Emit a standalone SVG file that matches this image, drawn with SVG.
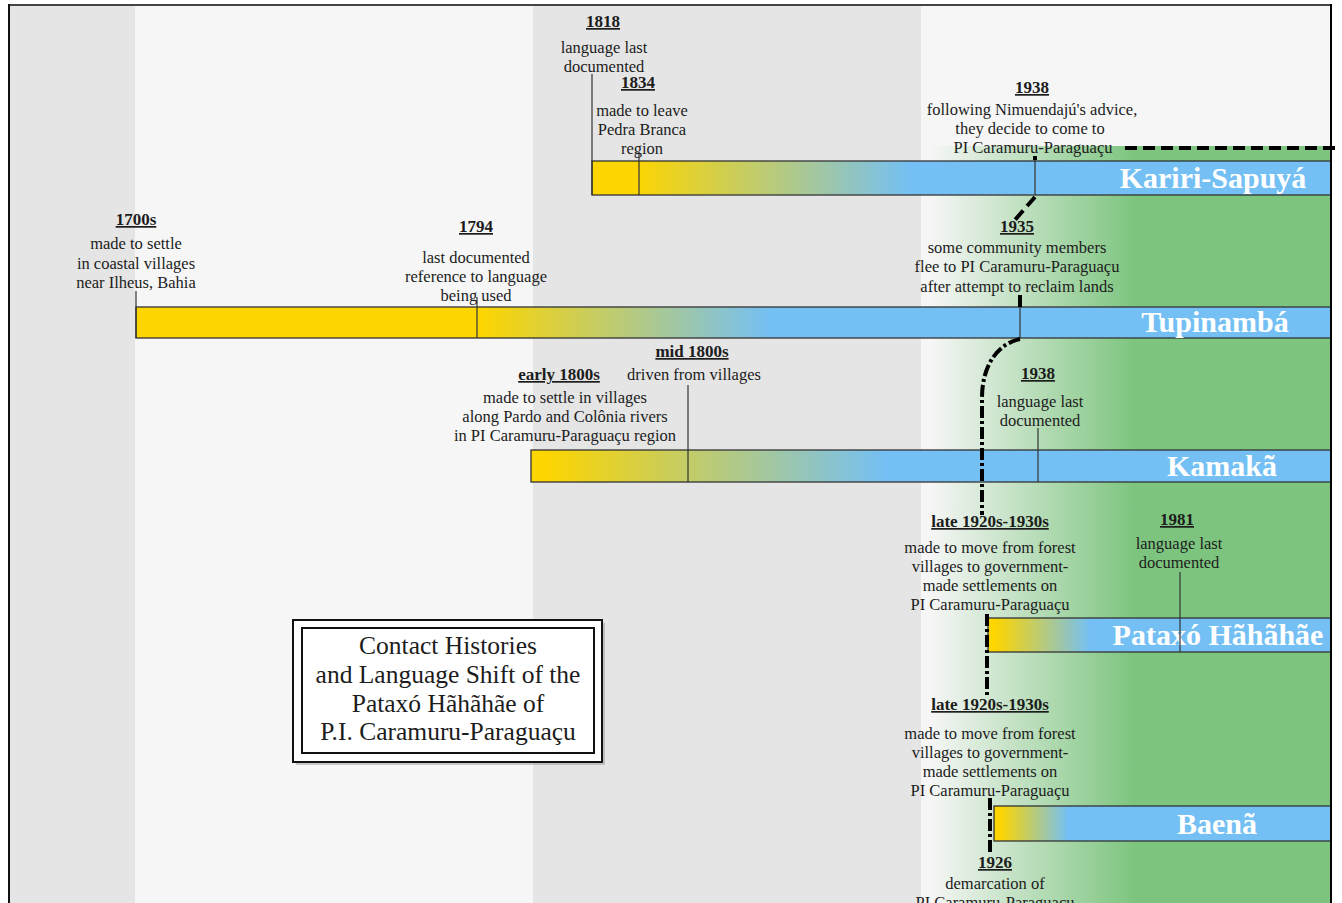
<svg xmlns="http://www.w3.org/2000/svg" width="1342" height="903" viewBox="0 0 1342 903">
<defs>
<style>
.d{font-family:"Liberation Serif","Times New Roman",serif;font-size:16.5px;fill:#1c1c1c;text-anchor:middle}
.y{font-family:"Liberation Serif","Times New Roman",serif;font-size:17px;font-weight:bold;fill:#1c1c1c;text-anchor:middle;text-decoration:underline}
.lbl{font-family:"Liberation Serif","Times New Roman",serif;font-size:30px;font-weight:bold;fill:#ffffff;text-anchor:middle}
.ttl{font-family:"Liberation Serif","Times New Roman",serif;font-size:25.5px;fill:#1c1c1c;text-anchor:middle}
.bar{stroke:#333;stroke-width:1.3}
.tick{stroke:#333;stroke-width:1.2;fill:none}
.route{stroke:#000;stroke-width:4;fill:none;stroke-dasharray:12 3 3 3}
.route2{stroke:#000;stroke-width:4;fill:none;stroke-dasharray:12 6}
</style>
<linearGradient id="gKariri" gradientUnits="userSpaceOnUse" x1="635" y1="0" x2="910" y2="0"><stop offset="0" stop-color="#fdd500"/><stop offset="1" stop-color="#74c0f4"/></linearGradient>
<linearGradient id="gTupi" gradientUnits="userSpaceOnUse" x1="480" y1="0" x2="770" y2="0"><stop offset="0" stop-color="#fdd500"/><stop offset="1" stop-color="#74c0f4"/></linearGradient>
<linearGradient id="gKamaka" gradientUnits="userSpaceOnUse" x1="545" y1="0" x2="885" y2="0"><stop offset="0" stop-color="#fdd500"/><stop offset="1" stop-color="#74c0f4"/></linearGradient>
<linearGradient id="gPataxo" gradientUnits="userSpaceOnUse" x1="995" y1="0" x2="1090" y2="0"><stop offset="0" stop-color="#fdd500"/><stop offset="1" stop-color="#74c0f4"/></linearGradient>
<linearGradient id="gBaena" gradientUnits="userSpaceOnUse" x1="1000" y1="0" x2="1068" y2="0"><stop offset="0" stop-color="#fdd500"/><stop offset="1" stop-color="#74c0f4"/></linearGradient>
<linearGradient id="gGreen" gradientUnits="userSpaceOnUse" x1="930" y1="0" x2="1135" y2="0"><stop offset="0" stop-color="#f6f6f6"/><stop offset="1" stop-color="#7dc57f"/></linearGradient>
</defs>

<g id="background">
<rect x="0" y="0" width="1342" height="903" fill="#ffffff"/>
<rect x="9" y="5" width="126" height="898" fill="#e5e5e5"/>
<rect x="135" y="5" width="398" height="898" fill="#f6f6f6"/>
<rect x="533" y="5" width="388" height="898" fill="#e5e5e5"/>
<rect x="921" y="5" width="410" height="898" fill="#f6f6f6"/>
<rect x="921" y="146" width="410" height="757" fill="url(#gGreen)"/>
</g>

<g id="title">
<rect x="296" y="623" width="309" height="142" fill="#9a9a9a" opacity="0.5"/>
<rect x="293" y="620" width="309" height="142" fill="#ffffff" stroke="#111" stroke-width="2"/>
<rect x="302" y="628" width="292" height="125" fill="none" stroke="#111" stroke-width="2"/>
<text class="ttl" x="448" y="654">Contact Histories</text>
<text class="ttl" x="448" y="683">and Language Shift of the</text>
<text class="ttl" x="448" y="712">Pataxó Hãhãhãe of</text>
<text class="ttl" x="448" y="740">P.I. Caramuru-Paraguaçu</text>
</g>

<g id="bar-kariri">
<rect class="bar" x="592" y="161" width="739" height="34" fill="url(#gKariri)"/>
<text class="lbl" x="1213" y="188">Kariri-Sapuyá</text>
</g>
<g id="bar-tupinamba">
<rect class="bar" x="136" y="307" width="1195" height="31" fill="url(#gTupi)"/>
<text class="lbl" x="1215" y="332">Tupinambá</text>
</g>
<g id="bar-kamaka">
<rect class="bar" x="531" y="450" width="800" height="32" fill="url(#gKamaka)"/>
<text class="lbl" x="1222" y="476">Kamakã</text>
</g>
<g id="bar-pataxo">
<rect class="bar" x="988" y="618" width="343" height="34" fill="url(#gPataxo)"/>
<text class="lbl" x="1218" y="645">Pataxó Hãhãhãe</text>
</g>
<g id="bar-baena">
<rect class="bar" x="994" y="806" width="337" height="35" fill="url(#gBaena)"/>
<text class="lbl" x="1217" y="834">Baenã</text>
</g>

<g id="connectors">
<line class="tick" x1="136" y1="291" x2="136" y2="338"/>
<line class="tick" x1="477" y1="297" x2="477" y2="338"/>
<line class="tick" x1="592" y1="74" x2="592" y2="195"/>
<line class="tick" x1="639" y1="152" x2="639" y2="195"/>
<line class="tick" x1="1035" y1="157" x2="1035" y2="195"/>
<line class="tick" x1="1020" y1="296" x2="1020" y2="338"/>
<line class="tick" x1="688" y1="385" x2="688" y2="482"/>
<line class="tick" x1="1038" y1="428" x2="1038" y2="482"/>
<line class="tick" x1="1180" y1="572" x2="1180" y2="652"/>
<rect x="1033" y="156" width="4" height="4" fill="#000"/>
<path class="route2" d="M1125,148 L1336,148"/>
<path class="route2" d="M1035,197 L1014,221"/>
<path class="route2" d="M1020,295 L1020,307"/>
<path class="route" d="M1020,339 C997,344 982,366 982,398 L982,515"/>
<path class="route" d="M987,614 L987,695"/>
<path class="route" d="M990,798 L990,852"/>
</g>

<g id="ev-1818">
<text class="y" x="603" y="27">1818</text>
<text class="d" x="604" y="53">language last</text>
<text class="d" x="604" y="72">documented</text>
</g>
<g id="ev-1834">
<text class="y" x="638" y="88">1834</text>
<text class="d" x="642" y="116">made to leave</text>
<text class="d" x="642" y="135">Pedra Branca</text>
<text class="d" x="642" y="154">region</text>
</g>
<g id="ev-1938-kariri">
<text class="y" x="1032" y="93">1938</text>
<text class="d" x="1032" y="115">following Nimuendajú's advice,</text>
<text class="d" x="1030" y="134">they decide to come to</text>
<text class="d" x="1033" y="153">PI Caramuru-Paraguaçu</text>
</g>
<g id="ev-1700s">
<text class="y" x="136" y="225">1700s</text>
<text class="d" x="136" y="249">made to settle</text>
<text class="d" x="136" y="269">in coastal villages</text>
<text class="d" x="136" y="288">near Ilheus, Bahia</text>
</g>
<g id="ev-1794">
<text class="y" x="476" y="232">1794</text>
<text class="d" x="476" y="263">last documented</text>
<text class="d" x="476" y="282">reference to language</text>
<text class="d" x="476" y="301">being used</text>
</g>
<g id="ev-1935">
<text class="y" x="1017" y="232">1935</text>
<text class="d" x="1017" y="253">some community members</text>
<text class="d" x="1017" y="272">flee to PI Caramuru-Paraguaçu</text>
<text class="d" x="1017" y="292">after attempt to reclaim lands</text>
</g>
<g id="ev-mid1800s">
<text class="y" x="692" y="357">mid 1800s</text>
<text class="d" x="694" y="380">driven from villages</text>
</g>
<g id="ev-early1800s">
<text class="y" x="559" y="380">early 1800s</text>
<text class="d" x="565" y="403">made to settle in villages</text>
<text class="d" x="565" y="422">along Pardo and Colônia rivers</text>
<text class="d" x="565" y="441">in PI Caramuru-Paraguaçu region</text>
</g>
<g id="ev-1938-kamaka">
<text class="y" x="1038" y="379">1938</text>
<text class="d" x="1040" y="407">language last</text>
<text class="d" x="1040" y="426">documented</text>
</g>
<g id="ev-late1920s-pataxo">
<text class="y" x="990" y="527">late 1920s-1930s</text>
<text class="d" x="990" y="553">made to move from forest</text>
<text class="d" x="990" y="572">villages to government-</text>
<text class="d" x="990" y="591">made settlements on</text>
<text class="d" x="990" y="610">PI Caramuru-Paraguaçu</text>
</g>
<g id="ev-1981">
<text class="y" x="1177" y="525">1981</text>
<text class="d" x="1179" y="549">language last</text>
<text class="d" x="1179" y="568">documented</text>
</g>
<g id="ev-late1920s-baena">
<text class="y" x="990" y="710">late 1920s-1930s</text>
<text class="d" x="990" y="739">made to move from forest</text>
<text class="d" x="990" y="758">villages to government-</text>
<text class="d" x="990" y="777">made settlements on</text>
<text class="d" x="990" y="796">PI Caramuru-Paraguaçu</text>
</g>
<g id="ev-1926">
<text class="y" x="995" y="868">1926</text>
<text class="d" x="995" y="889">demarcation of</text>
<text class="d" x="995" y="908">PI Caramuru-Paraguaçu</text>
</g>

<g id="frame">
<line x1="9" y1="5" x2="1332" y2="5" stroke="#444" stroke-width="2"/>
<line x1="9" y1="4" x2="9" y2="903" stroke="#111" stroke-width="2"/>
<line x1="1331" y1="4" x2="1331" y2="903" stroke="#000" stroke-width="2"/>
</g>
</svg>
